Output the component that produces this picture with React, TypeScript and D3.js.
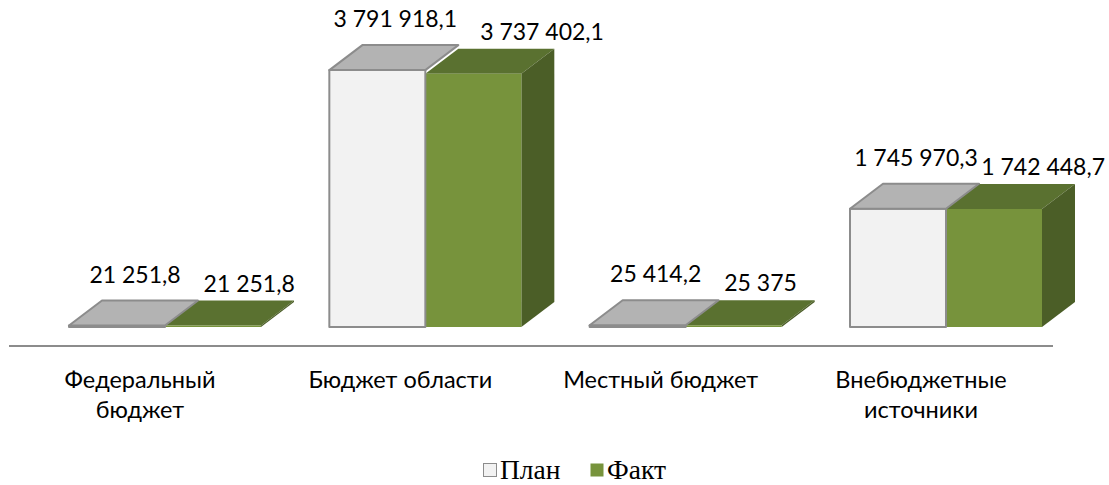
import { useEffect, useRef } from 'react';
import * as d3 from 'd3';

const CATEGORIES = [['Федеральный', 'бюджет'], ['Бюджет области'], ['Местный бюджет'], ['Внебюджетные', 'источники']];
const PLAN = [21251.8, 3791918.1, 25414.2, 1745970.3];
const FACT = [21251.8, 3737402.1, 25375, 1742448.7];
const SERIES = ['План', 'Факт'];

const W = 1109;
const H = 485;
const DX = 33;
const DY = -25;
const BAR_W = 96;
const FONT = 'Lato, "Open Sans", sans-serif';

const ru = d3.formatLocale({ decimal: ',', thousands: '\u00a0', grouping: [3], currency: ['', ''] });
const fmt = ru.format(',.1~f');

const PLAN_STYLE = { front: '#f2f2f2', top: '#b3b3b3', side: '#9a9a9a', stroke: '#8c8c8c' };
const FACT_STYLE = { front: '#77933c', top: '#5a7130', side: '#4b5e27', stroke: 'none' };

export default function App() {
  const svgRef = useRef<SVGSVGElement>(null);

  useEffect(() => {
    const svg = d3.select(svgRef.current);
    svg.selectAll('*').remove();

    const x = d3.scalePoint<number>().domain(d3.range(CATEGORIES.length)).range([165, 946]);
    const y = d3.scaleLinear().domain([0, 4000000]).range([327, 56]);
    const base = y(0);

    function box(g, x0, v, st, order) {
      const yt = Math.min(y(v), base - 1.5);
      const front = [[x0, yt], [x0 + BAR_W, yt], [x0 + BAR_W, base], [x0, base]];
      const top = [[x0, yt], [x0 + BAR_W, yt], [x0 + BAR_W + DX, yt + DY], [x0 + DX, yt + DY]];
      const side = [[x0 + BAR_W, yt], [x0 + BAR_W + DX, yt + DY], [x0 + BAR_W + DX, base + DY], [x0 + BAR_W, base]];
      const line = d3.line();
      const faces = { front: front, top: top, side: side };
      order.forEach(function (k) {
        g.append('path')
          .attr('d', line(faces[k]) + 'Z')
          .attr('fill', st[k])
          .attr('stroke', st.stroke)
          .attr('stroke-width', st.stroke === 'none' ? 0 : 2)
          .attr('stroke-linejoin', 'round');
      });
      return yt + DY;
    }

    // axis line
    svg.append('line')
      .attr('x1', 9).attr('x2', 1053)
      .attr('y1', 346).attr('y2', 346)
      .attr('stroke', '#8c8c8c').attr('stroke-width', 2);

    const labels = svg.append('g')
      .attr('font-family', FONT)
      .attr('font-size', 23)
      .attr('fill', '#000');

    CATEGORIES.forEach(function (cat, i) {
      const cx = x(i) as number;
      const g = svg.append('g');
      const factTop = box(g, cx, FACT[i], FACT_STYLE, ['top', 'side', 'front']);
      const planTop = box(g, cx - BAR_W, PLAN[i], PLAN_STYLE, ['front', 'top']);

      // data labels
      const pl = labels.append('text')
        .attr('x', cx - BAR_W / 2 + 18)
        .attr('y', planTop - 18)
        .attr('text-anchor', 'middle')
        .text(fmt(PLAN[i]));
      const pb = (pl.node() as SVGTextElement).getBBox();
      const fl = labels.append('text')
        .attr('y', factTop - 9)
        .text(fmt(FACT[i]));
      const fw = (fl.node() as SVGTextElement).getComputedTextLength();
      fl.attr('x', Math.min(pb.x + pb.width + 23, W - 4 - fw));

      // category label
      const t = svg.append('text')
        .attr('x', cx - 25)
        .attr('y', 388)
        .attr('text-anchor', 'middle')
        .attr('font-family', FONT)
        .attr('font-size', 23.5)
        .attr('fill', '#000');
      cat.forEach(function (ln, j) {
        t.append('tspan').attr('x', cx - 25).attr('dy', j === 0 ? 0 : 30).text(ln);
      });
    });

    // legend
    const legend = svg.append('g').attr('transform', 'translate(483,463)');
    const lx = d3.scaleOrdinal<string, number>().domain(SERIES).range([0, 107]);
    [PLAN_STYLE, FACT_STYLE].forEach(function (st, i) {
      const gx = lx(SERIES[i]);
      legend.append('rect')
        .attr('x', gx + 0.5).attr('y', 0.5)
        .attr('width', 13).attr('height', 13)
        .attr('fill', st.front)
        .attr('stroke', i === 0 ? '#8c8c8c' : 'none');
      legend.append('text')
        .attr('x', gx + 17).attr('y', 16)
        .attr('font-family', '"Liberation Serif", serif')
        .attr('font-size', 27.5)
        .attr('fill', '#000')
        .text(SERIES[i]);
    });
  }, []);

  return (
    <svg
      ref={svgRef}
      width={W}
      height={H}
      style={{ position: 'absolute', left: 0, top: 0, background: '#fff' }}
    />
  );
}
